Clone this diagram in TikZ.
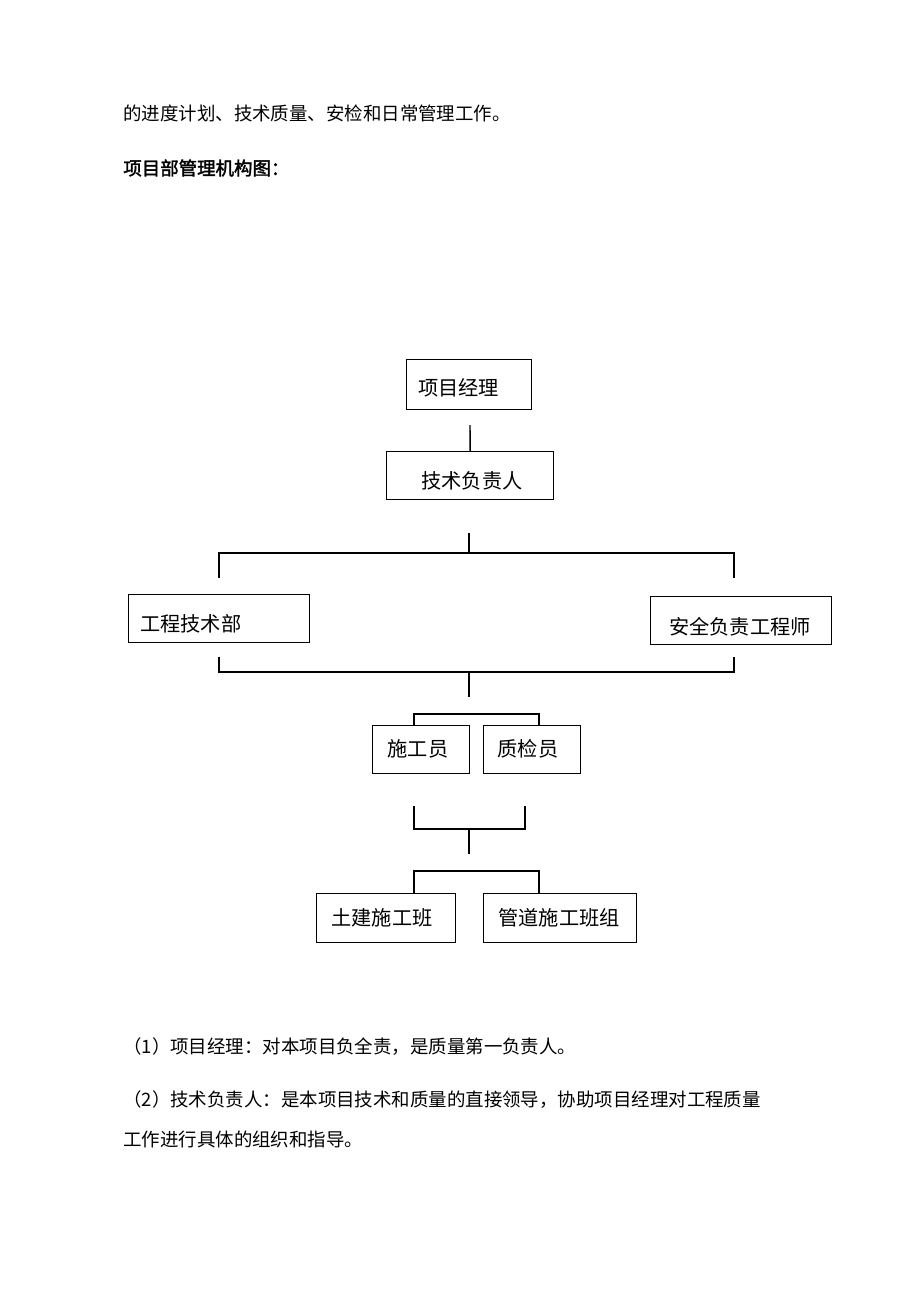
\documentclass[tikz,border=0pt]{standalone}
\usepackage{fontspec}
\setmainfont{Noto Sans CJK SC}
\newfontfamily\cjkbold[FakeBold=2]{Noto Sans CJK SC}
\usetikzlibrary{positioning}

\begin{document}
\begin{tikzpicture}[
  x=0.02cm, y=-0.02cm,
  box/.style={draw, thick, rectangle, anchor=north west, inner sep=0pt, font=\fontsize{11.5}{13}\selectfont},
  para/.style={anchor=west, inner sep=0pt, font=\fontsize{10.5}{12}\selectfont},
  link/.style={thick}
]
\useasboundingbox (0,0) rectangle (920,1302);

% text around the chart
\node[para] (p0) at (123,113) {的进度计划、技术质量、安检和日常管理工作。};
\node[para, font=\fontsize{10.5}{12}\selectfont\cjkbold] (title) at (123,168) {项目部管理机构图：};
\node[para] (p1) at (123,1047) {（1）项目经理：对本项目负全责，是质量第一负责人。};
\node[para] (p2) at (123,1100) {（2）技术负责人：是本项目技术和质量的直接领导，协助项目经理对工程质量};
\node[para] (p3) at (123,1139) {工作进行具体的组织和指导。};

% boxes
\node[box, minimum width=125*0.02cm, minimum height=50*0.02cm] (pm) at (406,359) {};
\node[anchor=west, font=\fontsize{11.5}{13}\selectfont] at (412,388) {项目经理};
\node[box, minimum width=167*0.02cm, minimum height=48*0.02cm] (tech) at (386,451) {};
\node[font=\fontsize{11.5}{13}\selectfont] at (472,481) {技术负责人};
\node[box, minimum width=181*0.02cm, minimum height=48*0.02cm] (dept) at (128,594) {};
\node[anchor=west, font=\fontsize{11.5}{13}\selectfont] at (134,624) {工程技术部};
\node[box, minimum width=181*0.02cm, minimum height=48*0.02cm] (safe) at (650,596) {};
\node[font=\fontsize{11.5}{13}\selectfont] at (740,627) {安全负责工程师};
\node[box, minimum width=97*0.02cm, minimum height=48*0.02cm] (worker) at (372,725) {};
\node[font=\fontsize{11.5}{13}\selectfont] at (418,749) {施工员};
\node[box, minimum width=97*0.02cm, minimum height=48*0.02cm] (qc) at (483,725) {};
\node[font=\fontsize{11.5}{13}\selectfont] at (528,749) {质检员};
\node[box, minimum width=139*0.02cm, minimum height=49*0.02cm] (civil) at (316,893) {};
\node[font=\fontsize{11.5}{13}\selectfont] at (382,918) {土建施工班};
\node[box, minimum width=153*0.02cm, minimum height=49*0.02cm] (pipe) at (483,893) {};
\node[font=\fontsize{11.5}{13}\selectfont] at (559,918) {管道施工班组};

% connectors
\coordinate (a1) at (470,425);
\draw[link] (a1) -- (tech.north);
\coordinate (b1) at (469,533);
\coordinate (b2) at (469,553);
\draw[link] (b1) -- (b2);
\draw[link] (219,578) -- (219,553) -- (734,553) -- (734,578);
\draw[link] (219,657) -- (219,672) -- (734,672) -- (734,657);
\draw[link] (469,672) -- (469,697);
\draw[link] (414,725) -- (414,714) -- (539,714) -- (539,725);
\draw[link] (414,806) -- (414,829) -- (525,829) -- (525,806);
\draw[link] (469,829) -- (469,854);
\draw[link] (414,893) -- (414,871) -- (539,871) -- (539,893);
\end{tikzpicture}
\end{document}
